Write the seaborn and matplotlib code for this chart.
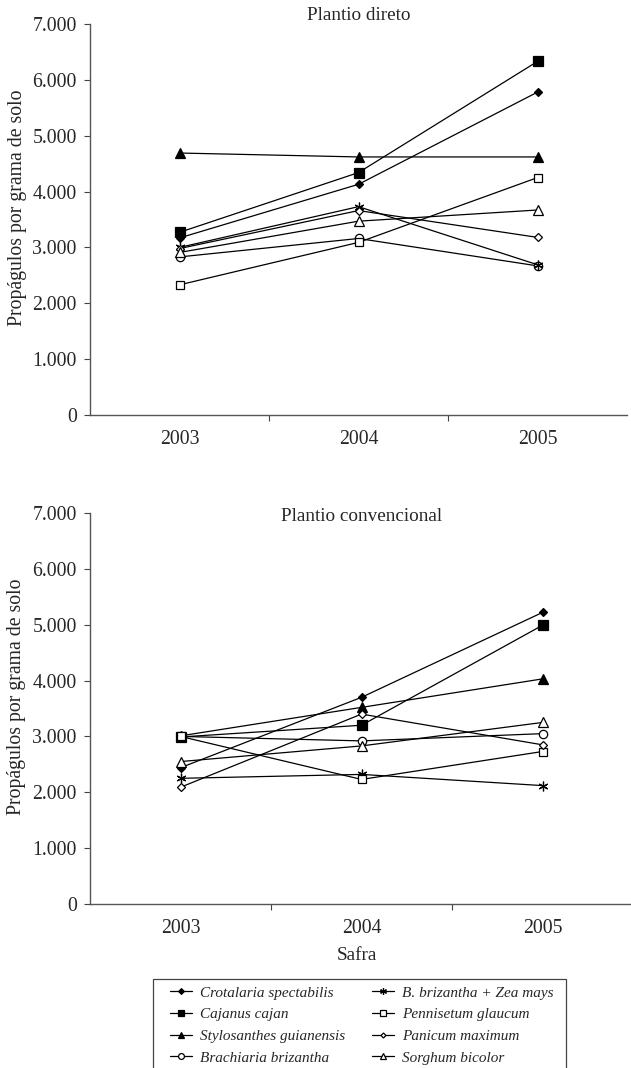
import numpy as np
import pandas as pd
import seaborn as sns
import matplotlib.pyplot as plt
from matplotlib.patches import Rectangle
from matplotlib.ticker import FixedLocator

# Data (propagules per gram of soil)
safras = ["2003", "2004", "2005"]
especies = [
    "Crotalaria spectabilis",
    "Cajanus cajan",
    "Stylosanthes guianensis",
    "Brachiaria brizantha",
    "B. brizantha + Zea mays",
    "Pennisetum glaucum",
    "Panicum maximum",
    "Sorghum bicolor",
]
direto = {
    "Crotalaria spectabilis": [3170, 4130, 5780],
    "Cajanus cajan": [3270, 4340, 6330],
    "Stylosanthes guianensis": [4690, 4620, 4620],
    "Brachiaria brizantha": [2830, 3160, 2670],
    "B. brizantha + Zea mays": [3000, 3730, 2690],
    "Pennisetum glaucum": [2330, 3090, 4250],
    "Panicum maximum": [2980, 3660, 3180],
    "Sorghum bicolor": [2910, 3470, 3670],
}
convencional = {
    "Crotalaria spectabilis": [2440, 3700, 5220],
    "Cajanus cajan": [2990, 3200, 4990],
    "Stylosanthes guianensis": [3010, 3520, 4030],
    "Brachiaria brizantha": [3000, 2920, 3050],
    "B. brizantha + Zea mays": [2250, 2320, 2120],
    "Pennisetum glaucum": [3000, 2230, 2730],
    "Panicum maximum": [2090, 3400, 2850],
    "Sorghum bicolor": [2550, 2830, 3250],
}
yticks = [0, 1000, 2000, 3000, 4000, 5000, 6000, 7000]
ytick_labels = ["0", "1.000", "2.000", "3.000", "4.000", "5.000", "6.000", "7.000"]

# marker style per species: (marker, size, filled)
estilo = {
    "Crotalaria spectabilis": ("D", 4.2, True),
    "Cajanus cajan": ("s", 6.5, True),
    "Stylosanthes guianensis": ("^", 7, True),
    "Brachiaria brizantha": ("o", 6, False),
    "B. brizantha + Zea mays": ((6, 2, 0), 7, False),
    "Pennisetum glaucum": ("s", 6, False),
    "Panicum maximum": ("D", 3.6, False),
    "Sorghum bicolor": ("^", 6.5, False),
}


def long_df(d):
    rows = []
    for esp in especies:
        for s, v in zip(safras, d[esp]):
            rows.append({"Safra": s, "Espécie": esp, "valor": v})
    return pd.DataFrame(rows)


sns.set_style("white")
plt.rcParams["font.family"] = ["Liberation Serif", "DejaVu Serif"]
plt.rcParams["font.size"] = 14.2

W, H = 631, 1068
fig = plt.figure(figsize=(W / 100, H / 100), dpi=100)
ax1 = fig.add_axes([90 / W, (H - 415) / H, 537 / W, 391 / H])
ax2 = fig.add_axes([90 / W, (H - 904) / H, 543 / W, 391 / H])

for ax, dados, titulo, ty in [(ax1, direto, "Plantio direto", 1.023),
                              (ax2, convencional, "Plantio convencional", 0.99)]:
    df = long_df(dados)
    for esp in especies:
        m, ms, filled = estilo[esp]
        sub = df[df["Espécie"] == esp]
        sns.lineplot(data=sub, x="Safra", y="valor", ax=ax, color="black",
                     lw=0.9, marker=m, ms=ms, mec="black", mew=0.9,
                     mfc="black" if filled else "white", label=esp, legend=False)
    ax.set_xlim(-0.5, 2.5)
    ax.set_ylim(0, 7000)
    ax.set_yticks(yticks)
    ax.set_yticklabels(ytick_labels)
    ax.set_xticks(range(len(safras)))
    ax.set_xticklabels(safras)
    ax.xaxis.set_minor_locator(FixedLocator([0.5, 1.5]))
    ax.tick_params(axis="x", which="major", length=0, pad=10.5)
    ax.tick_params(axis="x", which="minor", length=4, width=0.8, color="#444", direction="out", bottom=True)
    ax.tick_params(axis="y", length=4, width=0.8, color="#444", direction="out", left=True, pad=5.5)
    for sp in ["top", "right"]:
        ax.spines[sp].set_visible(False)
    for sp in ["left", "bottom"]:
        ax.spines[sp].set_color("#555")
        ax.spines[sp].set_linewidth(1.0)
    ax.set_xlabel("")
    ax.set_ylabel("Propágulos por grama de solo")
    ax.yaxis.set_label_coords(-0.117, 0.53)
    ax.text(0.5, ty, titulo, transform=ax.transAxes, ha="center", va="center", fontsize=13.8)

fig.text(357 / W, 1 - 955 / H, "Safra", ha="center", va="center", fontsize=13.8)

# legend box (frame drawn separately so the inner padding can be wider than tall)
fig.patches.append(Rectangle((153 / W, 1 - 1075 / H), (566 - 153) / W, (1075 - 979) / H,
                             transform=fig.transFigure, fill=False, ec="#444", lw=0.9))
handles, labels = ax1.get_legend_handles_labels()
leg = fig.legend(handles, labels, ncol=2, loc="upper left",
                 bbox_to_anchor=(170 / W, 1 - 986 / H), borderaxespad=0, borderpad=0,
                 prop={"family": ["Liberation Serif"], "style": "italic", "size": 11},
                 frameon=False, handlelength=1.45, handletextpad=0.52,
                 columnspacing=1.73, labelspacing=0.52, markerscale=0.7)

fig.savefig("out.png", dpi=100)
